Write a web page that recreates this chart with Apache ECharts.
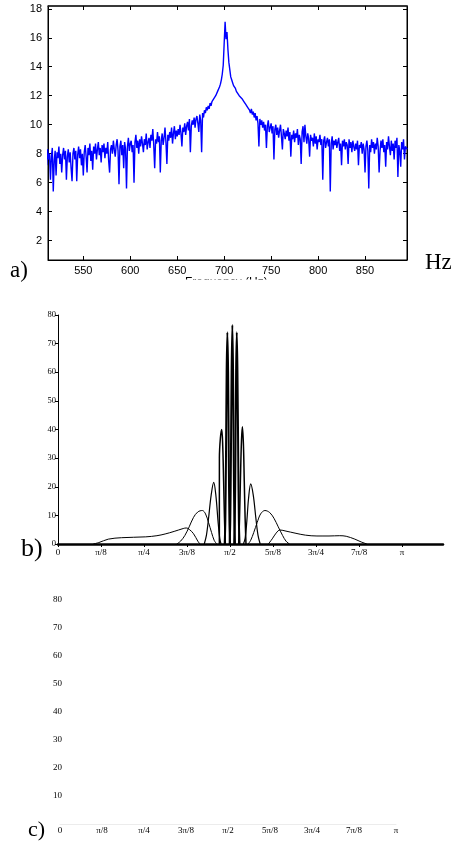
<!DOCTYPE html>
<html>
<head>
<meta charset="utf-8">
<script src="https://cdn.jsdelivr.net/npm/echarts@6/dist/echarts.min.js"></script>
<style>
html,body{margin:0;padding:0;background:#fff;}
#chart{width:456px;height:841px;}
</style>
</head>
<body>
<div id="chart"></div>
<script>
// ---------- Panel a: spectrum (frequency grid starts at 511 Hz, 1 Hz step) ----------
const freqStart = 511;
const freqStep = 1;
const amplitude = [
  7.2, 8.3, 7.6, 8.0, 6.2, 7.8, 8.4, 5.4, 7.5, 8.2,
  6.5, 8.1, 7.7, 8.5, 7.3, 8.0, 6.7, 7.9, 8.4, 7.6,
  8.2, 6.2, 7.8, 8.3, 7.4, 8.1, 7.0, 6.1, 8.0, 8.4,
  7.6, 8.2, 6.1, 7.9, 8.5, 7.7, 8.3, 7.2, 8.0, 6.5,
  8.1, 8.6, 7.8, 6.7, 8.4, 7.9, 8.7, 7.5, 8.2, 6.9,
  8.5, 8.0, 8.7, 7.6, 8.3, 8.8, 7.9, 8.4, 7.4, 8.6,
  8.1, 8.7, 7.7, 8.4, 8.0, 8.8, 7.5, 6.7, 8.3, 8.6,
  8.0, 8.9, 8.3, 7.8, 8.6, 9.0, 8.2, 5.9, 8.5, 8.9,
  7.9, 8.6, 7.0, 8.8, 8.3, 5.6, 8.5, 9.1, 8.2, 8.7,
  8.9, 8.1, 8.6, 6.0, 8.8, 9.3, 8.4, 8.9, 8.0, 9.0,
  8.5, 9.2, 8.7, 8.1, 9.0, 8.6, 9.4, 8.3, 8.8, 9.1,
  8.4, 9.3, 8.9, 9.7, 8.6, 7.0, 9.0, 8.7, 9.5, 8.8,
  9.2, 6.7, 8.9, 9.4, 8.6, 9.1, 9.8, 8.8, 7.3, 9.3,
  8.9, 9.5, 9.1, 9.8, 8.7, 9.4, 9.9, 9.0, 9.6, 9.2,
  9.7, 9.3, 10.0, 9.4, 8.5, 9.8, 9.5, 10.1, 9.3, 9.9,
  10.2, 9.6, 10.4, 8.1, 9.9, 10.3, 10.0, 10.5, 9.8, 10.4,
  10.6, 10.1, 9.5, 10.7, 10.3, 8.1, 10.8, 10.5, 11.0, 10.8,
  11.2, 11.0, 11.3, 11.1, 11.5, 11.3, 11.6, 11.5, 11.8, 11.9,
  12.0, 12.1, 12.3, 12.4, 12.6, 12.8, 13.1, 13.5, 14.1, 15.6,
  17.1, 15.9, 16.4, 15.2, 14.3, 13.8, 13.3, 13.1, 12.9, 12.7,
  12.6, 12.5, 12.3, 12.4, 12.2, 12.0, 12.1, 11.9, 11.8, 11.9,
  11.6, 11.7, 11.4, 11.5, 11.2, 11.3, 11.0, 10.8, 11.1, 10.7,
  10.9, 10.5, 10.8, 10.3, 10.6, 10.1, 8.5, 10.4, 10.0, 10.3,
  9.8, 10.2, 9.6, 10.0, 8.4, 9.9, 10.3, 9.5, 9.8, 10.1,
  9.4, 9.9, 7.6, 9.7, 10.0, 9.3, 9.8, 9.1, 9.6, 10.0,
  9.2, 8.3, 9.7, 9.4, 9.0, 9.6, 9.2, 9.8, 8.9, 9.5,
  7.8, 9.3, 9.0, 9.6, 8.8, 9.4, 9.1, 9.7, 8.6, 9.3,
  9.0, 7.3, 9.5, 9.9, 8.8, 10.0, 9.2, 8.7, 9.4, 9.0,
  7.8, 9.3, 8.9, 9.1, 8.5, 9.4, 8.7, 9.2, 8.3, 9.0,
  8.8, 9.3, 8.6, 9.0, 6.2, 8.9, 9.2, 8.4, 8.8, 9.1,
  8.5, 9.0, 5.4, 8.7, 9.2, 8.3, 8.9, 8.6, 9.0, 8.4,
  8.8, 9.1, 8.2, 8.7, 7.2, 8.9, 8.5, 9.0, 8.3, 8.8,
  8.6, 7.3, 9.0, 8.4, 8.8, 8.1, 8.9, 8.5, 8.2, 8.7,
  8.3, 8.9, 7.2, 8.6, 8.4, 8.8, 8.0, 8.7, 8.3, 6.7,
  8.5, 8.9, 8.2, 5.6, 8.6, 8.1, 9.0, 8.4, 8.8, 8.0,
  8.7, 8.3, 9.1, 8.5, 6.7, 8.2, 8.9, 8.4, 9.0, 8.1,
  8.6, 7.1, 8.8, 8.3, 9.2, 8.5, 7.9, 8.9, 8.2, 8.7,
  7.6, 8.9, 8.4, 9.1, 6.4, 8.6, 8.2, 7.1, 8.8, 8.3,
  9.0, 7.6, 8.5, 8.6, 8.3
];
const freqTicks = [550, 600, 650, 700, 750, 800, 850];
const ampTicks = [2, 4, 6, 8, 10, 12, 14, 16, 18];

// ---------- Panel b: curves, x in units of pi/8 ----------
const piLabels = ['0', 'π/8', 'π/4', '3π/8', 'π/2', '5π/8', '3π/4', '7π/8', 'π'];
const piTicks = [0, 1, 2, 3, 4, 5, 6, 7, 8];
const curveALeft = [[0.82,0],[0.95,0.5],[1.17,1.7],[1.48,2.2],[2.04,2.5],[2.3,2.9],[2.49,3.5],[2.7,4.4],[2.91,5.4],[2.98,5.6],[3.06,5.0],[3.15,3.6],[3.25,1.0],[3.30,0]];
const curveARight = [[4.89,0],[4.98,1.8],[5.07,3.8],[5.16,4.9],[5.3,4.5],[5.51,3.8],[5.75,3.1],[6.02,2.8],[6.3,2.8],[6.55,2.9],[6.7,2.7],[6.9,1.7],[7.05,0.7],[7.18,0]];
const curveBLeft = [[2.76,0],[2.85,1],[2.95,3],[3.05,6],[3.15,9.3],[3.25,11.2],[3.356,11.7],[3.43,10.5],[3.5,7.5],[3.57,4],[3.63,1.3],[3.69,0]];
const curveBRight = [[4.42,0],[4.48,1.3],[4.55,4],[4.63,7.5],[4.71,10.5],[4.81,11.7],[4.92,11],[5.02,9],[5.12,6],[5.22,3],[5.30,1],[5.38,0]];
const curveCLeft = [[3.40,0],[3.45,3],[3.5,9],[3.56,17],[3.62,21.5],[3.67,17],[3.72,8],[3.76,2],[3.79,0]];
const curveCRight = [[4.31,0],[4.35,2],[4.39,8],[4.43,16],[4.48,21],[4.54,17],[4.6,9],[4.65,3],[4.70,0]];
const curveDLeft = [[3.751,0],[3.752,30],[3.775,37],[3.807,40],[3.83,34],[3.85,22],[3.87,9],[3.89,0]];
const curveDRight = [[4.20,0],[4.22,9],[4.24,22],[4.265,36],[4.286,41],[4.31,35],[4.33,22],[4.35,9],[4.37,0]];
const curveELeft = [[3.875,0],[3.89,8],[3.905,30],[3.92,60],[3.937,74],[3.955,60],[3.97,30],[3.985,8],[4.0,0]];
const curveERight = [[4.095,0],[4.11,8],[4.125,30],[4.14,60],[4.156,74],[4.172,60],[4.19,30],[4.205,8],[4.22,0]];
const curveF = [[3.99,0],[4.005,8],[4.02,30],[4.035,60],[4.053,76.5],[4.07,60],[4.085,30],[4.10,8],[4.115,0]];
const powerTicks = [0, 10, 20, 30, 40, 50, 60, 70, 80];
const powerTicksC = [10, 20, 30, 40, 50, 60, 70, 80];

const spectrum = amplitude.map((v, i) => [freqStart + freqStep * i, v]);

const SANS = 'Liberation Sans, Arial, sans-serif';
const SERIF = 'Liberation Serif, Times New Roman, serif';

const chart = echarts.init(document.getElementById('chart'), null, {renderer: 'canvas'});

function curve(data, width) {
  return {
    type: 'line', xAxisIndex: 2, yAxisIndex: 2, data: data,
    showSymbol: false, smooth: 0.35, clip: false,
    lineStyle: {color: '#000', width: width || 1}
  };
}

const option = {
  animation: false,
  backgroundColor: '#fff',
  grid: [
    {left: 48, top: 6, width: 359, height: 254, show: true, borderColor: '#000', borderWidth: 1, backgroundColor: 'transparent'},
    {left: 58, top: 315, width: 385, height: 229},
    {left: 60, top: 600, width: 336, height: 224}
  ],
  xAxis: [
    {type: 'value', gridIndex: 0, min: 512.4, max: 894.7, position: 'bottom',
      axisLine: {show: true, lineStyle: {color: '#000', width: 1}},
      axisTick: {show: true, inside: true, length: 4, customValues: freqTicks, lineStyle: {color: '#000'}},
      axisLabel: {show: true, customValues: freqTicks, margin: 5, fontFamily: SANS, fontSize: 11, color: '#000'},
      splitLine: {show: false}},
    {type: 'value', gridIndex: 0, min: 512.4, max: 894.7, position: 'top',
      axisLine: {show: true, lineStyle: {color: '#222', width: 1.5}},
      axisTick: {show: true, inside: true, length: 4, customValues: freqTicks, lineStyle: {color: '#000'}},
      axisLabel: {show: false}, splitLine: {show: false}},
    {type: 'value', gridIndex: 1, min: 0, max: 8.95, position: 'bottom',
      axisLine: {show: true, lineStyle: {color: '#000', width: 2.5}},
      axisTick: {show: true, length: 3, customValues: piTicks, lineStyle: {color: '#000'}},
      axisLabel: {show: true, customValues: piTicks, margin: 4, fontFamily: SERIF, fontSize: 9, color: '#000',
        formatter: v => piLabels[Math.round(v)]},
      splitLine: {show: false}},
    {type: 'value', gridIndex: 2, min: 0, max: 8, position: 'bottom',
      axisLine: {show: true, lineStyle: {color: '#ececec', width: 1}},
      axisTick: {show: false},
      axisLabel: {show: true, customValues: piTicks, margin: 2, fontFamily: SERIF, fontSize: 9, color: '#000',
        formatter: v => piLabels[Math.round(v)]},
      splitLine: {show: false}}
  ],
  yAxis: [
    {type: 'value', gridIndex: 0, min: 0.67, max: 18.19, position: 'left',
      axisLine: {show: true, lineStyle: {color: '#000', width: 1}},
      axisTick: {show: true, inside: true, length: 4, customValues: ampTicks, lineStyle: {color: '#000'}},
      axisLabel: {show: true, customValues: ampTicks, margin: 6, fontFamily: SANS, fontSize: 11, color: '#000'},
      splitLine: {show: false}},
    {type: 'value', gridIndex: 0, min: 0.67, max: 18.19, position: 'right',
      axisLine: {show: true, lineStyle: {color: '#000', width: 1}},
      axisTick: {show: true, inside: true, length: 4, customValues: ampTicks, lineStyle: {color: '#000'}},
      axisLabel: {show: false}, splitLine: {show: false}},
    {type: 'value', gridIndex: 1, min: 0, max: 80, position: 'left',
      axisLine: {show: true, lineStyle: {color: '#000', width: 1}},
      axisTick: {show: true, length: 3, customValues: powerTicks, lineStyle: {color: '#000'}},
      axisLabel: {show: true, customValues: powerTicks, margin: 2, fontFamily: SERIF, fontSize: 8.5, color: '#000'},
      splitLine: {show: false}},
    {type: 'value', gridIndex: 2, min: 0, max: 80, position: 'left',
      axisLine: {show: false}, axisTick: {show: false},
      axisLabel: {show: true, customValues: powerTicksC, margin: -2, fontFamily: SERIF, fontSize: 9, color: '#000'},
      splitLine: {show: false}}
  ],
  series: [
    {type: 'line', xAxisIndex: 0, yAxisIndex: 0, data: spectrum, showSymbol: false,
      lineStyle: {color: '#0000ff', width: 1.4}},
    curve(curveALeft), curve(curveARight),
    curve(curveBLeft), curve(curveBRight),
    curve(curveCLeft, 1.2), curve(curveCRight, 1.2),
    curve(curveDLeft, 1.5), curve(curveDRight, 1.5),
    curve(curveELeft, 2), curve(curveERight, 2),
    curve(curveF, 2)
  ],
  graphic: [
    {type: 'text', left: 185, top: 276.5, z: 10, style: {text: 'Frequency (Hz)', font: '12px ' + SANS, fill: '#000'}},
    {type: 'rect', left: 140, top: 279.5, z: 20, shape: {width: 180, height: 28}, style: {fill: '#fff'}},
    {type: 'text', left: 10, top: 259, z: 30, style: {text: 'a)', font: '23px ' + SERIF, fill: '#000'}},
    {type: 'text', left: 425, top: 251, z: 30, style: {text: 'Hz', font: '23px ' + SERIF, fill: '#000'}},
    {type: 'text', left: 21, top: 536, z: 30, style: {text: 'b)', font: '26px ' + SERIF, fill: '#000'}},
    {type: 'text', left: 28, top: 819, z: 30, style: {text: 'c)', font: '22px ' + SERIF, fill: '#000'}}
  ]
};
chart.setOption(option);
</script>
</body>
</html>
